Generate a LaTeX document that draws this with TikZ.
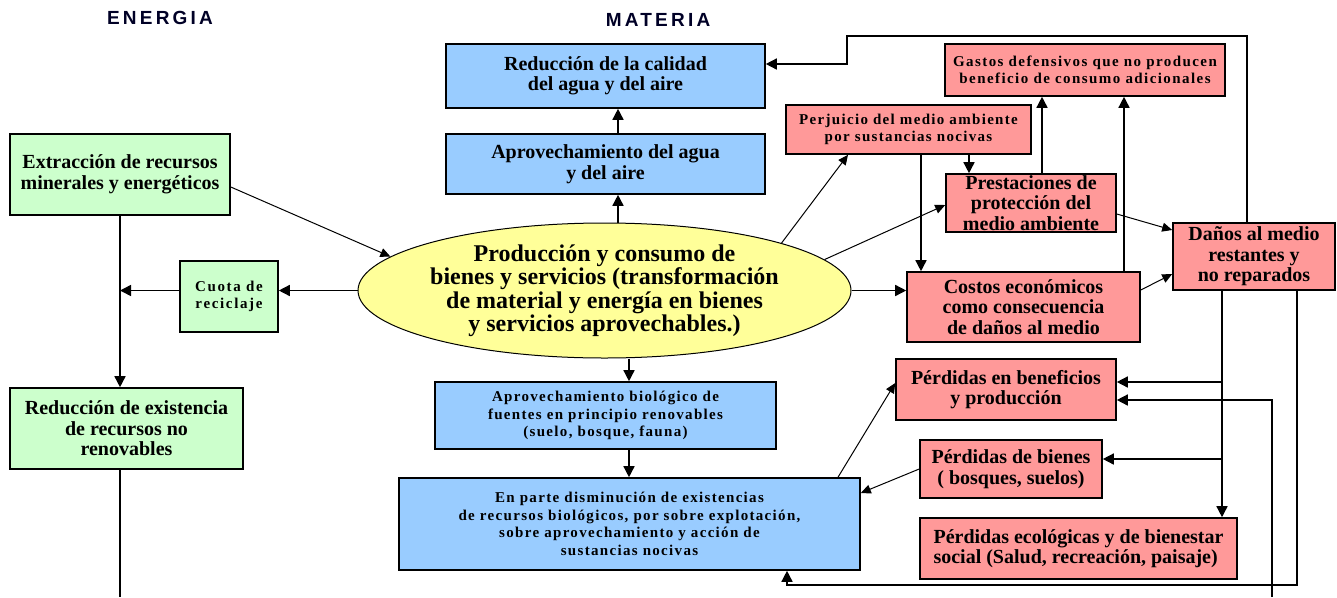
\documentclass[tikz,border=0pt]{standalone}
\usepackage{fontspec}
\setmainfont{Liberation Serif}
\newfontfamily\titlefont[LetterSpace=17]{Liberation Sans}
\usetikzlibrary{arrows.meta,shapes.geometric}
\definecolor{blueC}{HTML}{99CCFF}
\definecolor{greenC}{HTML}{CCFFCC}
\definecolor{pinkC}{HTML}{FF9999}
\definecolor{yellowC}{HTML}{FFFF99}
\newcommand{\fntBig}{\bfseries\fontsize{20}{20.5}\selectfont}
\newcommand{\fntEll}{\bfseries\fontsize{24}{23.5}\selectfont}
\newcommand{\fntSmall}[1]{\bfseries\fontsize{15}{17.5}\selectfont\addfontfeature{LetterSpace=#1}}
\begin{document}
\begin{tikzpicture}[x=1pt,y=-1pt,
  box/.style={draw=black,line width=1.6pt,rectangle,inner sep=0pt,align=center},
  bbox/.style={box,fill=blueC},
  gbox/.style={box,fill=greenC},
  rbox/.style={box,fill=pinkC},
  ttl/.style={inner sep=0pt,font=\titlefont\bfseries\fontsize{19}{19}\selectfont,text=black!85!blue},
  line/.style={draw=black,line width=1.5pt},
  arr/.style={line,-{Triangle[length=11pt,width=11pt]}},
  tarr/.style={draw=black,line width=1pt,-{Triangle[length=10pt,width=9pt]}}
]
\useasboundingbox (0,0) rectangle (1337,597);

% titles
\node[ttl] (energia) at (160,18) {ENERGIA};
\node[ttl] (materia) at (658,20) {MATERIA};

% column helpers
\coordinate (c618) at (618,0);
\coordinate (c629) at (629,0);
\coordinate (c921) at (921,0);
\coordinate (c969) at (969,0);
\coordinate (c1042) at (1042,0);
\coordinate (c1124) at (1124,0);
\coordinate (c1222) at (1222,0);
\coordinate (c1247) at (1247,0);
\coordinate (c1297) at (1297,0);

% blue column
\node[bbox,minimum width=319pt,minimum height=64pt,font=\fntBig] (redcal) at (605.5,76) {Reducción de la calidad\\del agua y del aire};
\node[bbox,minimum width=319pt,minimum height=60pt,font=\fntBig] (agua) at (605.5,164) {Aprovechamiento del agua\\y del  aire};
\node[ellipse,draw=black,line width=1pt,fill=yellowC,minimum width=485pt,minimum height=135pt,inner sep=0pt,align=center,font=\fntEll] (ell) at (604.5,290.5) {Producción y consumo de\\bienes y servicios (transformación\\de material y energía en bienes\\y servicios aprovechables.)};
\node[bbox,minimum width=341pt,minimum height=67pt,font=\fntSmall{8.8}] (biol) at (605.5,415.5) {Aprovechamiento biológico de\\fuentes en principio renovables\\(suelo, bosque, fauna)};
\node[bbox,minimum width=461pt,minimum height=92pt,font=\fntSmall{8.8}] (enparte) at (629.5,524) {En parte disminución de existencias\\de recursos biológicos, por sobre explotación,\\sobre aprovechamiento y acción de\\sustancias nocivas};

% green column
\node[gbox,minimum width=220pt,minimum height=81pt,font=\fntBig] (extr) at (120,174.5) {Extracción de recursos\\minerales y energéticos};
\node[gbox,minimum width=98pt,minimum height=71pt,font=\fntSmall{11}] (cuota) at (229,296.5) {Cuota de\\reciclaje};
\node[gbox,minimum width=233pt,minimum height=81pt,font=\fntBig] (redexist) at (126.5,428.5) {Reducción de existencia\\de recursos no\\renovables};

% red boxes
\node[rbox,minimum width=280pt,minimum height=52pt,font=\fntSmall{9.5}] (gastos) at (1085,70) {Gastos defensivos que no producen\\beneficio de consumo adicionales};
\node[rbox,minimum width=245pt,minimum height=49pt,font=\fntSmall{8.8}] (perj) at (908.5,129.5) {Perjuicio del medio ambiente\\por sustancias nocivas};
\node[rbox,minimum width=170pt,minimum height=58pt,font=\fntBig] (prest) at (1031,203) {Prestaciones de\\protección del\\medio ambiente};
\node[rbox,minimum width=233pt,minimum height=70pt,font=\fntBig] (costos) at (1023.5,307) {Costos económicos\\como consecuencia\\de daños al medio};
\node[rbox,minimum width=162pt,minimum height=67pt,font=\fntBig] (danos) at (1254,256.5) {Daños al medio\\restantes y\\no reparados};
\node[rbox,minimum width=220pt,minimum height=61pt,font=\fntBig] (pben) at (1006,389.5) {Pérdidas en beneficios\\y producción};
\node[rbox,minimum width=182pt,minimum height=58pt,font=\fntBig] (pbien) at (1011,469) {Pérdidas de bienes\\( bosques, suelos)};
\node[rbox,minimum width=317pt,minimum height=61pt,font=\fntBig,align=left] (peco) at (1078.5,548.5) {Pérdidas ecológicas y de bienestar\\social (Salud,  recreación,  paisaje)};

% left connectors
\coordinate (botL) at (120,597);
\draw[arr] (extr.south) -- (extr.south |- redexist.north);
\draw[line] (extr.south |- redexist.south) -- (botL);
\draw[arr] (ell.west) -- (ell.west -| cuota.east);
\draw[arr] (ell.west -| cuota.west) -- (ell.west -| extr.south);
\draw[tarr] ([yshift=-12.5pt]extr.east) -- (ell.171);

% central column
\draw[arr] (ell.north -| c618) -- (agua.south -| c618);
\draw[arr] (agua.north -| c618) -- (redcal.south -| c618);
\draw[arr] (ell.south -| c629) -- (biol.north -| c629);
\draw[arr] (biol.south -| c629) -- (enparte.north -| c629);

% right side
\draw[arr] (ell.east) -- (ell.east -| costos.west);
\draw[tarr] (ell.15) -- ([xshift=-60.5pt]perj.south);
\draw[tarr] (ell.8) -- ([yshift=-2pt]prest.west);
\draw[arr] (perj.south -| c969) -- (prest.north -| c969);
\draw[arr] (perj.south -| c921) -- (costos.north -| c921);
\draw[arr] (prest.north -| c1042) -- (gastos.south -| c1042);
\draw[arr] (costos.north -| c1124) -- (gastos.south -| c1124);
\draw[tarr] ([yshift=-11pt]prest.east) -- ([yshift=26.5pt]danos.west);
\draw[tarr] ([yshift=17pt]costos.east) -- ([yshift=-17.5pt]danos.west);

\coordinate (lt) at (847,36);
\draw[arr] (danos.north -| c1247) |- (lt) |- ([yshift=12pt]redcal.east);

\draw[arr] (danos.south -| c1222) -- (peco.north -| c1222);
\coordinate (pbenIn) at ([yshift=7.5pt]pben.east);
\draw[arr] (pbenIn -| c1222) -- (pbenIn);
\coordinate (pbienIn) at ([yshift=10pt]pbien.east);
\draw[arr] (pbienIn -| c1222) -- (pbienIn);
\coordinate (pbenIn2) at ([yshift=-10.5pt]pben.east);
\coordinate (botR) at (1272,597);
\draw[arr] (botR) |- (pbenIn2);
\coordinate (lb) at (787,585);
\draw[arr] (danos.south -| c1297) |- (lb) -- (enparte.south -| lb);
\draw[tarr] (pbien.west) -- ([yshift=31pt]enparte.east);
\draw[tarr] ([xshift=208.5pt]enparte.north) -- ([yshift=6.5pt]pben.west);
\end{tikzpicture}
\end{document}
